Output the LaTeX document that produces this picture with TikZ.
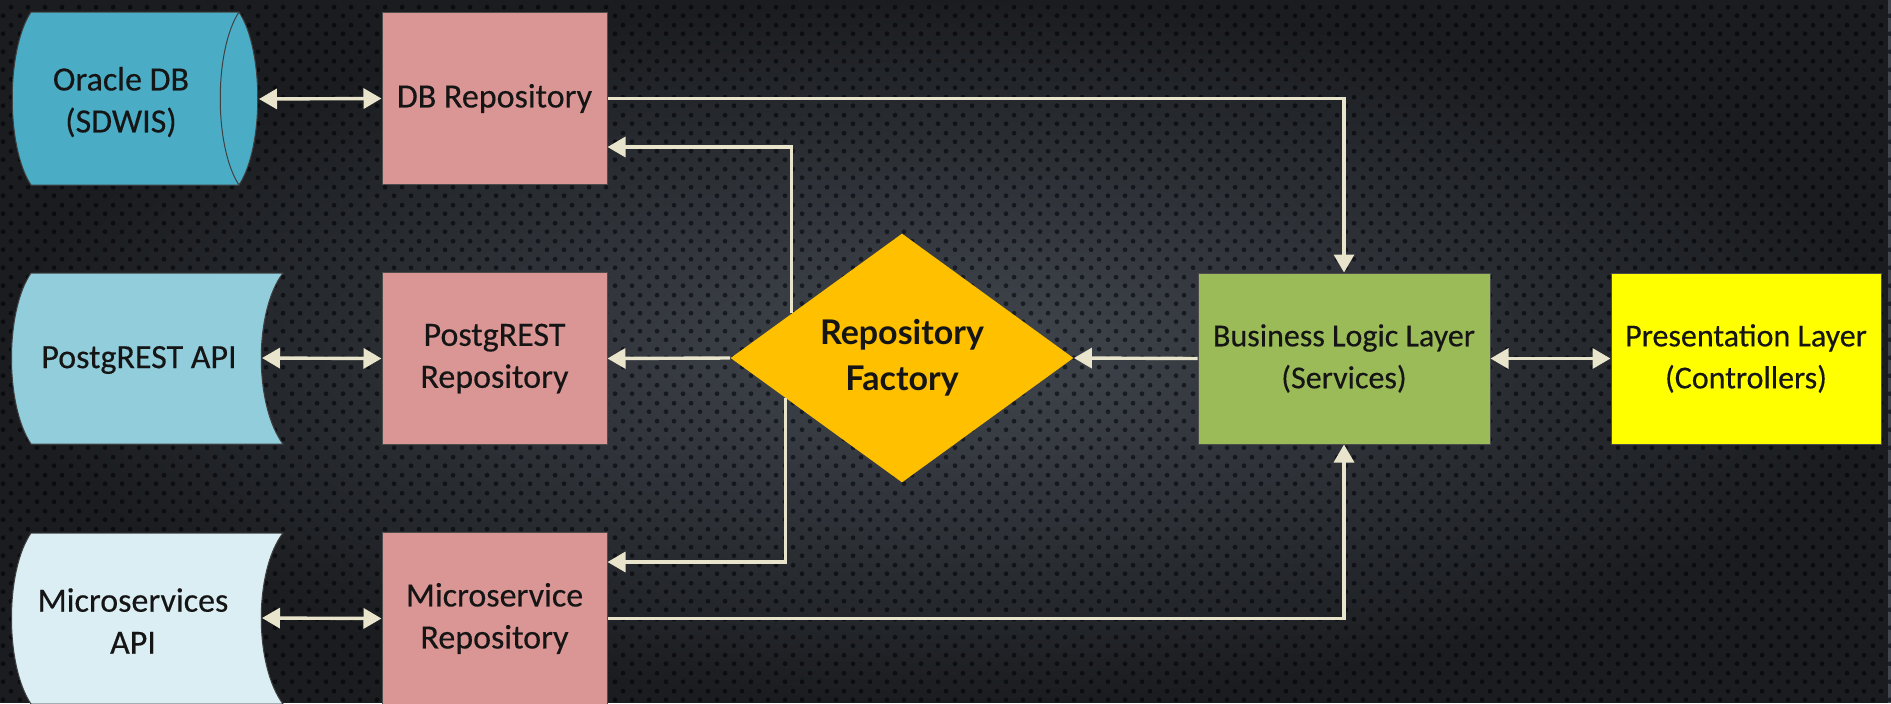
\documentclass[tikz,border=0pt]{standalone}
\usepackage{fontspec}
\setmainfont{Carlito}[UprightFeatures={FakeBold=0.35}]
\newfontfamily\facfont{Lato}
\usetikzlibrary{arrows.meta,shapes.geometric,patterns.meta,fadings,calc}
\definecolor{bgbase}{HTML}{42474F}
\definecolor{dotc}{HTML}{1C2028}
\definecolor{linec}{HTML}{E9E5CC}
\definecolor{oracol}{HTML}{4BACC6}
\definecolor{pgcol}{HTML}{92CDDC}
\definecolor{mscol}{HTML}{DAEEF3}
\definecolor{repocol}{HTML}{D99694}
\definecolor{faccol}{HTML}{FFC000}
\definecolor{bllcol}{HTML}{9BBB59}
\definecolor{prescol}{HTML}{FFFF00}
\definecolor{txtc}{HTML}{151515}
\tikzdeclarepattern{
  name=bgdots,
  type=uncolored,
  bounding box={(0pt,0pt) and (8.5pt,9pt)},
  tile size={(8.5pt,9pt)},
  code={
    \fill (2.125pt,2.25pt) circle (1.25pt);
    \fill (6.375pt,6.75pt) circle (1.25pt);
  }
}
\tikzfading[name=vign, inner color=transparent!100, outer color=transparent!0]
\begin{document}
\begin{tikzpicture}[x=0.5pt,y=-0.5pt,
  every node/.style={text=txtc},
  box/.style={draw=black!70, line width=0.5pt, inner sep=0pt, align=center,
    font=\fontsize{17}{21}\selectfont, minimum width=112.5pt},
  repo/.style={box, fill=repocol, minimum height=86pt},
  lay/.style={box, font=\fontsize{16}{21}\selectfont, minimum height=85.5pt},
  txt/.style={align=center, inner sep=0pt, font=\fontsize{17}{21}\selectfont},
  shp/.style={draw=black!75, line width=0.5pt},
  conn/.style={draw=linec, line width=1.7pt},
  arr/.style={conn, -{Triangle[length=9pt,width=10pt]}},
  biarr/.style={conn, {Triangle[length=9pt,width=10pt]}-{Triangle[length=9pt,width=10pt]}}
]
% background
\useasboundingbox (0,0) rectangle (1891,703);
\fill[bgbase] (0,0) rectangle (1891,703);
\fill[pattern=bgdots, pattern color=dotc] (0,0) rectangle (1891,703);
\fill[black, fill opacity=0.6, path fading=vign] (0,0) rectangle (1891,703);

% left data sources (shapes)
\fill[oracol] (31,12) -- (239,12) .. controls (264,50) and (264,147) .. (239,185)
  -- (31,185) .. controls (6,147) and (6,50) .. (31,12) -- cycle;
\draw[shp] (31,12) -- (239,12) .. controls (264,50) and (264,147) .. (239,185)
  -- (31,185) .. controls (6,147) and (6,50) .. (31,12) -- cycle;
\draw[shp] (239,12) .. controls (214,50) and (214,147) .. (239,185);

\filldraw[shp, fill=pgcol] (31,273) -- (283,273) .. controls (254,311) and (254,405) .. (283,444)
  -- (31,444) .. controls (5,405) and (5,311) .. (31,273) -- cycle;

\filldraw[shp, fill=mscol] (31,533) -- (283,533) .. controls (254,571) and (254,665) .. (283,704)
  -- (31,704) .. controls (5,665) and (5,571) .. (31,533) -- cycle;

\node[txt] (oratxt) at (121,102) {Oracle DB\\(SDWIS)};
\node[txt] (pgatxt) at (139,360) {PostgREST API};
\node[txt] (msatxt) at (133,621) {Microservices\\API};

\coordinate (oraR) at (259,99);
\coordinate (pgaR) at (262,358);
\coordinate (msaR) at (262,618);

% repositories
\node[repo] (dbr) at (494.5,98.5) {\raisebox{-2pt}{DB Repository}};
\node[repo] (pgr) at (494.5,358.5) {\raisebox{-2pt}{PostgREST}\\\raisebox{-2pt}{Repository}};
\node[repo] (msr) at (494.5,618.5) {\raisebox{-2pt}{Microservice}\\\raisebox{-2pt}{Repository}};

% factory
\node[diamond, fill=faccol, inner sep=0pt, shape aspect=1.4,
  minimum width=171.5pt, minimum height=124.5pt, align=center,
  font=\facfont\bfseries\fontsize{17}{23}\selectfont] (fac) at (902,358) {\raisebox{-2pt}{Repository}\\\raisebox{-2pt}{Factory}};

% layers
\node[lay, fill=bllcol, minimum width=146pt] (bll) at (1344,358.5) {\raisebox{-1.5pt}{Business Logic Layer}\\\raisebox{-1.5pt}{(Services)}};
\node[lay, fill=prescol, minimum width=135pt] (pres) at (1746,358.5) {\raisebox{-1.5pt}{Presentation Layer}\\\raisebox{-1.5pt}{(Controllers)}};

% connectors
\draw[biarr] (oraR) -- (dbr.west);
\draw[biarr] (pgaR) -- (pgr.west);
\draw[biarr] (msaR) -- (msr.west);
\draw[arr] (dbr.east) -| (bll.north);
\draw[arr] (msr.east) -| (bll.south);
\draw[arr] (bll.west) -- (fac.east);
\draw[arr] (fac.west) -- (pgr.east);
\draw[arr] (fac.158) |- ($(dbr.east)+(0,48.5)$);
\draw[arr] (fac.199) |- ($(msr.east)+(0,-56.5)$);
\draw[biarr] (bll.east) -- (pres.west);
\end{tikzpicture}
\end{document}
